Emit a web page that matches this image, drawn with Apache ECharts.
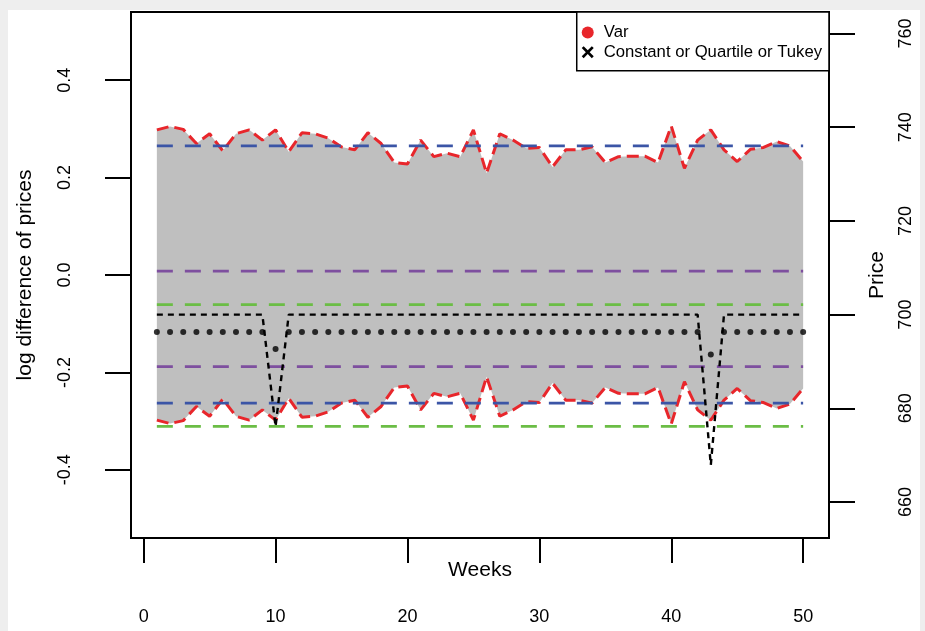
<!DOCTYPE html>
<html><head><meta charset="utf-8">
<script src="https://cdn.jsdelivr.net/npm/echarts@6/dist/echarts.min.js"></script>
<style>
html,body{margin:0;padding:0;background:#eeeeee;}
#paper{position:absolute;left:8px;top:10px;width:912px;height:621px;background:#ffffff;}
#chart{position:absolute;left:0;top:0;width:925px;height:631px;}
</style></head><body>
<div id="paper"></div><div id="chart"></div>
<script>
// ---- data ----
const weeks = [1,2,3,4,5,6,7,8,9,10,11,12,13,14,15,16,17,18,19,20,21,22,23,24,25,26,27,28,29,30,31,32,33,34,35,36,37,38,39,40,41,42,43,44,45,46,47,48,49,50];
const varValues = [0.298,0.305,0.299,0.270,0.290,0.255,0.290,0.298,0.277,0.298,0.253,0.292,0.290,0.281,0.263,0.257,0.292,0.270,0.231,0.228,0.277,0.243,0.250,0.243,0.298,0.209,0.290,0.277,0.260,0.262,0.222,0.257,0.257,0.263,0.231,0.243,0.244,0.244,0.231,0.306,0.219,0.277,0.298,0.257,0.233,0.258,0.262,0.274,0.265,0.233];
const priceValues = [700,700,700,700,700,700,700,700,700,676.1,700,700,700,700,700,700,700,700,700,700,700,700,700,700,700,700,700,700,700,700,700,700,700,700,700,700,700,700,700,700,700,700,667.9,700,700,700,700,700,700,700];
const dotValues = [-0.117,-0.117,-0.117,-0.117,-0.117,-0.117,-0.117,-0.117,-0.117,-0.152,-0.117,-0.117,-0.117,-0.117,-0.117,-0.117,-0.117,-0.117,-0.117,-0.117,-0.117,-0.117,-0.117,-0.117,-0.117,-0.117,-0.117,-0.117,-0.117,-0.117,-0.117,-0.117,-0.117,-0.117,-0.117,-0.117,-0.117,-0.117,-0.117,-0.117,-0.117,-0.117,-0.163,-0.117,-0.117,-0.117,-0.117,-0.117,-0.117,-0.117];
const blueLevels = [0.265, -0.263];
const purpleLevels = [0.008, -0.188];
const greenLevels = [-0.061, -0.311];
const xTicks = [0,10,20,30,40,50];
const leftTicks = [-0.4,-0.2,0,0.2,0.4];
const rightTicks = [660,680,700,720,740,760];

const FONT = "'Liberation Sans', Arial, Helvetica, sans-serif";
const RED = '#e8262b', BLUE = '#3b55a6', PURPLE = '#7e4f9f', GREEN = '#6bbd45', BAND = '#bfbfbf';
const X_ICON = 'path://M1.6,0 L5,3.4 L8.4,0 L10,1.6 L6.6,5 L10,8.4 L8.4,10 L5,6.6 L1.6,10 L0,8.4 L3.4,5 L0,1.6 Z';

const chart = echarts.init(document.getElementById('chart'), null, {renderer: 'canvas'});

function levelSeries(levels, color) {
  return levels.map(l => ({
    type: 'line', silent: true, symbol: 'none', z: 3,
    data: [[weeks[0], l], [weeks[weeks.length - 1], l]],
    lineStyle: {color: color, width: 2.8, type: [16, 12]}
  }));
}

const option = {
  animation: false,
  backgroundColor: 'transparent',
  textStyle: {fontFamily: FONT, color: '#000'},
  grid: {left: 131, top: 12, right: 96, bottom: 93, show: true, backgroundColor: '#ffffff',
         borderColor: '#000', borderWidth: 2, containLabel: false, outerBoundsMode: 'none'},
  legend: {
    orient: 'vertical', right: 96, top: 12, selectedMode: false,
    backgroundColor: '#ffffff', borderColor: '#000', borderWidth: 1.5, borderRadius: 0,
    padding: [12, 7, 10, 5], itemGap: 2.7, itemWidth: 22, itemHeight: 12,
    textStyle: {fontFamily: FONT, fontSize: 16.7, color: '#000'},
    itemStyle: {borderWidth: 0},
    data: [
      {name: 'Var', icon: 'circle', itemStyle: {color: RED, borderWidth: 0}},
      {name: 'Constant or Quartile or Tukey', icon: X_ICON, itemStyle: {color: '#000', borderWidth: 0}}
    ]
  },
  xAxis: {
    type: 'value', min: -0.96, max: 51.96, position: 'bottom',
    name: 'Weeks', nameLocation: 'middle', nameGap: 22, nameMoveOverlap: false,
    nameTextStyle: {fontFamily: FONT, fontSize: 21, color: '#000'},
    axisLine: {show: false, onZero: false}, splitLine: {show: false},
    axisTick: {show: true, customValues: xTicks, length: 25, lineStyle: {color: '#000', width: 2}},
    axisLabel: {customValues: xTicks, margin: 70, fontFamily: FONT, fontSize: 18, color: '#000'}
  },
  yAxis: [
    {
      type: 'value', min: -0.54, max: 0.54, position: 'left',
      name: 'log difference of prices', nameLocation: 'middle', nameGap: 95.5, nameMoveOverlap: false,
      nameTextStyle: {fontFamily: FONT, fontSize: 21, color: '#000'},
      axisLine: {show: false, onZero: false}, splitLine: {show: false},
      axisTick: {show: true, customValues: leftTicks, length: 26, lineStyle: {color: '#000', width: 2}},
      axisLabel: {customValues: leftTicks, rotate: 90, margin: 57, fontFamily: FONT, fontSize: 18, color: '#000',
                  formatter: v => Number(v).toFixed(1)}
    },
    {
      type: 'value', min: 652.32, max: 764.59, position: 'right',
      name: 'Price', nameLocation: 'middle', nameGap: 37.5, nameMoveOverlap: false,
      nameTextStyle: {fontFamily: FONT, fontSize: 21, color: '#000'},
      axisLine: {show: false, onZero: false}, splitLine: {show: false},
      axisTick: {show: true, customValues: rightTicks, length: 26, lineStyle: {color: '#000', width: 2}},
      axisLabel: {customValues: rightTicks, rotate: 90, margin: 68, fontFamily: FONT, fontSize: 18, color: '#000'}
    }
  ],
  series: [
    {
      name: 'Var', type: 'line', symbol: 'none', z: 2,
      data: weeks.map((w, i) => [w, varValues[i]]),
      lineStyle: {color: RED, width: 3, type: [12, 6]},
      itemStyle: {color: RED},
      areaStyle: {color: BAND, opacity: 1, origin: 'auto'}
    },
    {
      name: 'Var', type: 'line', symbol: 'none', z: 2,
      data: weeks.map((w, i) => [w, -varValues[i]]),
      lineStyle: {color: RED, width: 3, type: [12, 6]},
      itemStyle: {color: RED},
      areaStyle: {color: BAND, opacity: 1, origin: 'auto'}
    },
    ...levelSeries(blueLevels, BLUE),
    ...levelSeries(purpleLevels, PURPLE),
    ...levelSeries(greenLevels, GREEN),
    {
      name: 'Constant or Quartile or Tukey', type: 'line', yAxisIndex: 1, symbol: 'none', z: 4,
      data: weeks.map((w, i) => [w, priceValues[i]]),
      lineStyle: {color: '#000', width: 2.4, type: [6, 5]},
      itemStyle: {color: '#000'}
    },
    {
      type: 'scatter', symbol: 'circle', symbolSize: 6, z: 5, silent: true,
      data: weeks.map((w, i) => [w, dotValues[i]]),
      itemStyle: {color: '#000'}
    }
  ]
};
chart.setOption(option);
</script>
</body></html>
